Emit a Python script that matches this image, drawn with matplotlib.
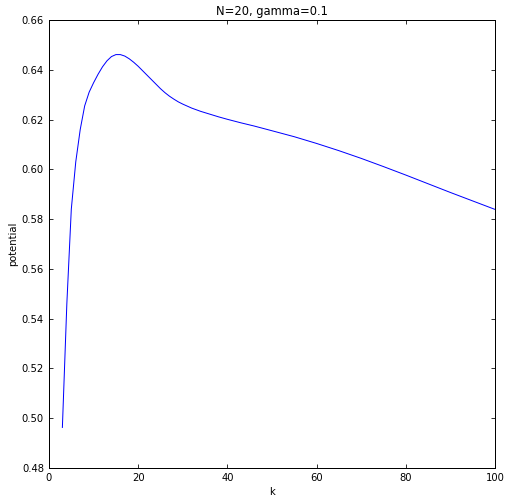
import matplotlib
matplotlib.use("Agg")
import matplotlib.pyplot as plt

k = [3, 4, 5, 6, 7, 8, 9, 10, 11, 12, 13, 14, 15, 16, 17, 18, 19, 20, 21, 22,
     23, 24, 25, 26, 27, 28, 29, 30, 32, 34, 36, 38, 40, 43, 46, 50, 55, 60,
     65, 70, 75, 80, 85, 90, 95, 100]
potential = [0.4963, 0.546, 0.584, 0.603, 0.616, 0.6255, 0.631, 0.6348, 0.6382,
             0.6412, 0.6436, 0.6453, 0.6461, 0.6461, 0.6455, 0.6444, 0.6430,
             0.6414, 0.6396, 0.6378, 0.6360, 0.6342, 0.6324, 0.6308, 0.6294,
             0.6282, 0.6271, 0.6262, 0.6246, 0.6233, 0.6222, 0.6211, 0.6201,
             0.6187, 0.6174, 0.6155, 0.6131, 0.6104, 0.6075, 0.6044, 0.6011,
             0.5977, 0.5942, 0.5907, 0.5873, 0.5839]
xticks = [0, 20, 40, 60, 80, 100]
yticks = [0.48, 0.50, 0.52, 0.54, 0.56, 0.58, 0.60, 0.62, 0.64, 0.66]

W, H = 511, 504
fig = plt.figure(figsize=(W / 72, H / 72), dpi=72)
ax = fig.add_axes([49 / W, (H - 468) / H, (495 - 49) / W, (468 - 20) / H])
ax.plot(k, potential, color="#0000ff", linewidth=1.0)
ax.set_xlim(0, 100)
ax.set_ylim(0.48, 0.66)
ax.set_xticks(xticks)
ax.set_yticks(yticks)
ax.set_yticklabels([f"{v:.2f}" for v in yticks])
ax.tick_params(direction="in", top=True, right=True, length=4, width=0.8,
               labelsize=10, pad=5)
for s in ax.spines.values():
    s.set_linewidth(1.0)
ax.set_xlabel("k", fontsize=10)
ax.set_ylabel("potential", fontsize=10)
ax.set_title("N=20, gamma=0.1", fontsize=11.5, pad=5)
fig.savefig("out.png", dpi=72, facecolor="white")
